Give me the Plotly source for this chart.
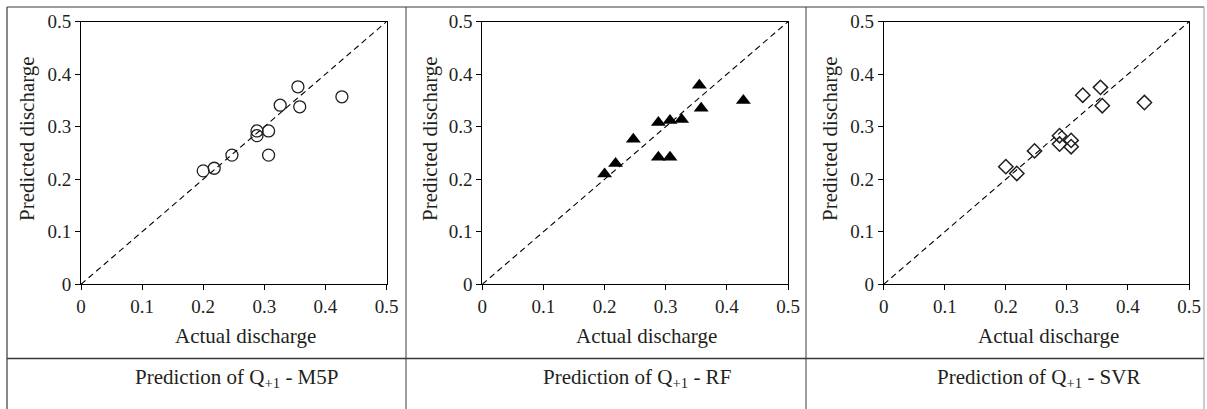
import plotly.graph_objects as go

W, H = 1207, 409

actual = [0.200, 0.218, 0.247, 0.288, 0.288, 0.307, 0.307, 0.326, 0.355, 0.358, 0.427]
pred_m5p = [0.216, 0.221, 0.246, 0.292, 0.283, 0.292, 0.246, 0.341, 0.376, 0.338, 0.357]
pred_rf = [0.210, 0.230, 0.276, 0.308, 0.242, 0.312, 0.242, 0.314, 0.379, 0.335, 0.350]
pred_svr = [0.224, 0.211, 0.254, 0.283, 0.267, 0.274, 0.262, 0.360, 0.375, 0.340, 0.346]
diag = [0, 0.5]
ticks = [0, 0.1, 0.2, 0.3, 0.4, 0.5]
tick_text = ["0", "0.1", "0.2", "0.3", "0.4", "0.5"]
captions = ["Prediction of Q<sub>+1</sub> - M5P",
            "Prediction of Q<sub>+1</sub> - RF",
            "Prediction of Q<sub>+1</sub> - SVR"]
x_title = "Actual discharge"
y_title = "Predicted discharge"

FONT = "Liberation Serif"
TXT = "#231f20"

# pixel layout (reference page coordinates)
plot_x = [(81, 386.5), (482.3, 788), (883.7, 1189)]
plot_y = (21.7, 284.3)
xtitle_cx = [245, 646, 1048]
ytitle_cx = [27, 430, 830]
cap_cx = [236, 637, 1038]

def px(x):
    return x / W

def py(y):
    return 1 - y / H

fig = go.Figure()

markers = [
    dict(symbol="circle-open", size=12, color=TXT, line=dict(width=1.3, color=TXT)),
    dict(symbol="triangle-up", size=13, color="black", line=dict(width=0)),
    dict(symbol="diamond-open", size=11, color=TXT, line=dict(width=1.5, color=TXT)),
]
preds = [pred_m5p, pred_rf, pred_svr]

for i in range(3):
    xa = "x" if i == 0 else f"x{i+1}"
    ya = "y" if i == 0 else f"y{i+1}"
    fig.add_trace(go.Scatter(x=diag, y=diag, mode="lines",
                             line=dict(color="black", width=1.1, dash="6px,4px"),
                             xaxis=xa, yaxis=ya, showlegend=False, hoverinfo="skip"))
    fig.add_trace(go.Scatter(x=actual, y=preds[i], mode="markers",
                             marker=markers[i], xaxis=xa, yaxis=ya, showlegend=False))
    axis_common = dict(range=[0, 0.5], tickvals=ticks, ticktext=tick_text,
                       showgrid=False, zeroline=False, showline=True, automargin=False,
                       linecolor="black", linewidth=1, mirror=True,
                       ticks="outside", ticklen=5, tickcolor="black", tickwidth=1,
                       tickfont=dict(family=FONT, size=19, color=TXT))
    xkey = "xaxis" if i == 0 else f"xaxis{i+1}"
    ykey = "yaxis" if i == 0 else f"yaxis{i+1}"
    fig.update_layout(**{
        xkey: dict(domain=[px(plot_x[i][0]), px(plot_x[i][1])], anchor=ya, **axis_common),
        ykey: dict(domain=[py(plot_y[1]), py(plot_y[0])], anchor=xa, **axis_common),
    })
    fig.add_annotation(text=x_title, xref="paper", yref="paper",
                       x=px(xtitle_cx[i]), y=py(336), xanchor="center", yanchor="middle",
                       showarrow=False, font=dict(family=FONT, size=21, color=TXT))
    fig.add_annotation(text=y_title, xref="paper", yref="paper", textangle=-90,
                       x=px(ytitle_cx[i]), y=py(139), xanchor="center", yanchor="middle",
                       showarrow=False, font=dict(family=FONT, size=21, color=TXT))
    fig.add_annotation(text=captions[i], xref="paper", yref="paper",
                       x=px(cap_cx[i]), y=py(378), xanchor="center", yanchor="middle",
                       showarrow=False, font=dict(family=FONT, size=21, color=TXT))

# table lines
line_col = "#3a3a3a"
L, T = px(7), py(7)
shapes = [
    dict(type="line", xref="paper", yref="paper", x0=L, x1=px(1204), y0=T, y1=T,
         line=dict(color=line_col, width=1.2)),
    dict(type="line", xref="paper", yref="paper", x0=L, x1=L, y0=T, y1=py(409),
         line=dict(color=line_col, width=1.2)),
    dict(type="line", xref="paper", yref="paper", x0=px(1204), x1=px(1204), y0=T, y1=py(409),
         line=dict(color="#9a9a9a", width=1)),
    dict(type="line", xref="paper", yref="paper", x0=px(406), x1=px(406), y0=T, y1=py(409),
         line=dict(color=line_col, width=1)),
    dict(type="line", xref="paper", yref="paper", x0=px(806), x1=px(806), y0=T, y1=py(409),
         line=dict(color=line_col, width=1)),
    dict(type="line", xref="paper", yref="paper", x0=L, x1=px(1204), y0=py(358.5), y1=py(358.5),
         line=dict(color=line_col, width=1.5)),
]

fig.update_layout(width=W, height=H, margin=dict(l=0, r=0, t=0, b=0, autoexpand=False),
                  paper_bgcolor="white", plot_bgcolor="white", shapes=shapes,
                  font=dict(family=FONT, color=TXT))

fig.write_html("out.html", config={"displayModeBar": False},
               post_script="document.body.style.margin='0';document.body.style.overflow='hidden';")
